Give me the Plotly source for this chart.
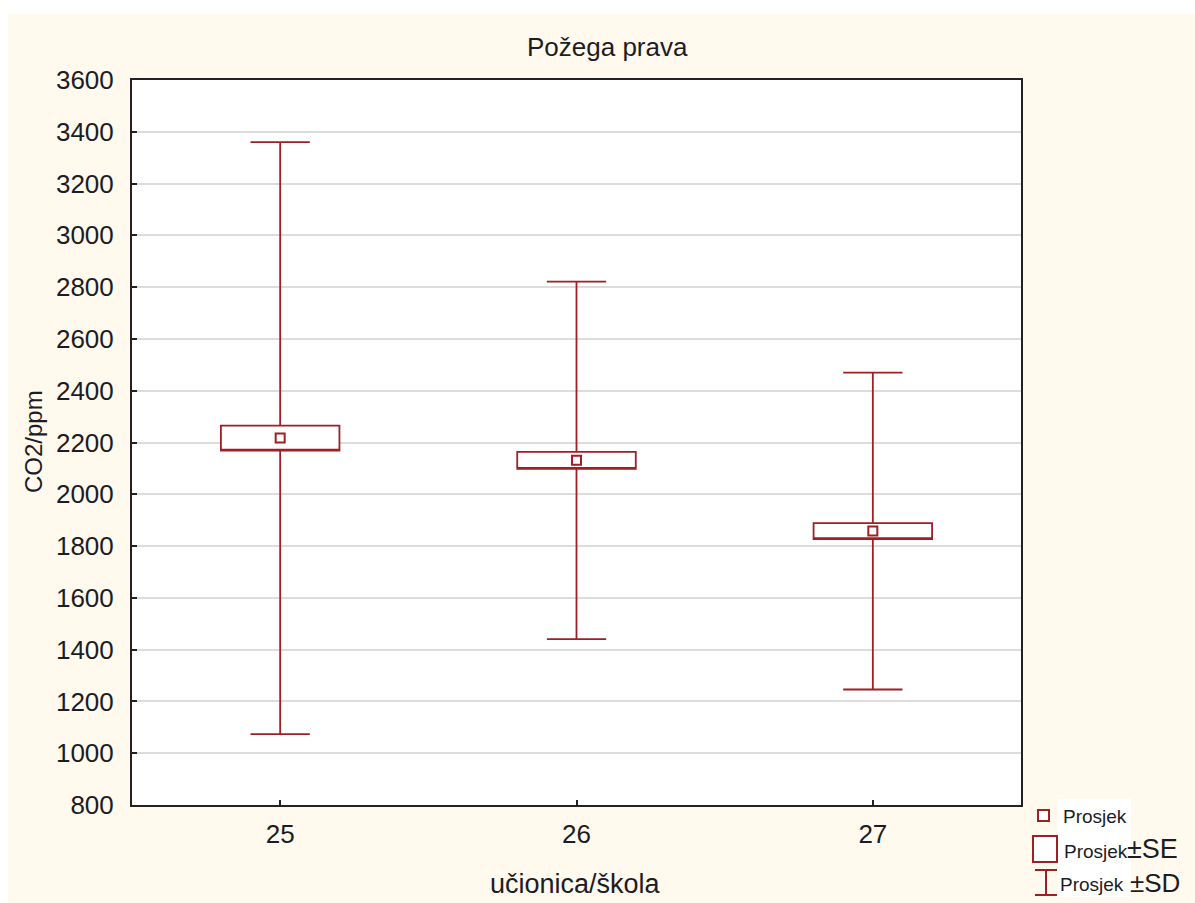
import plotly.graph_objects as go

# Classroom CO2 summary: mean, standard error and standard deviation per classroom
classrooms = [25, 26, 27]
mean_co2 = [2217, 2131, 1858]
se_co2 = [48, 33, 31]
sd_co2 = [1143, 690, 612]

y_ticks = list(range(800, 3601, 200))

RED = "#9E1F24"
CREAM = "#FFF9EE"
TEXT = "#1c1c24"
FONT = "Liberation Sans, Arial, sans-serif"

# Figure geometry (pixels)
W, H = 1195, 903
PL, PR, PT, PB = 132, 1021, 80, 805


def px(x):
    return (x - PL) / (PR - PL)


def py(y):
    return (PB - y) / (PB - PT)


lo_se = [m - s for m, s in zip(mean_co2, se_co2)]
hi_se = [m + s for m, s in zip(mean_co2, se_co2)]
lo_sd = [m - s for m, s in zip(mean_co2, sd_co2)]
hi_sd = [m + s for m, s in zip(mean_co2, sd_co2)]

fig = go.Figure()

# Mean ± SE box with whiskers out to mean ± SD
fig.add_trace(go.Box(
    x=classrooms,
    q1=lo_se,
    median=lo_se,
    q3=hi_se,
    lowerfence=lo_sd,
    upperfence=hi_sd,
    width=0.4,
    whiskerwidth=0.5,
    fillcolor="white",
    line=dict(color=RED, width=1.8),
    boxpoints=False,
    showlegend=False,
    hoverinfo="skip",
))

# Mean marker
fig.add_trace(go.Scatter(
    x=classrooms,
    y=mean_co2,
    mode="markers",
    marker=dict(symbol="square", size=9, color="white",
                line=dict(color=RED, width=2)),
    showlegend=False,
    hoverinfo="skip",
))

shapes = [
    # cream panel behind everything
    dict(type="rect", xref="paper", yref="paper", layer="below",
         x0=px(8), x1=px(W + 5), y0=py(H + 5), y1=py(14),
         fillcolor=CREAM, line=dict(width=0)),
    # white plotting area
    dict(type="rect", xref="paper", yref="paper", layer="below",
         x0=0, x1=1, y0=0, y1=1, fillcolor="white", line=dict(width=0)),
    # legend text backing
    dict(type="rect", xref="paper", yref="paper", layer="below",
         x0=px(1058), x1=px(1131), y0=py(897), y1=py(799),
         fillcolor="white", line=dict(width=0)),
    # legend: mean marker
    dict(type="rect", xref="paper", yref="paper",
         x0=px(1038), x1=px(1049), y0=py(821), y1=py(810),
         fillcolor="white", line=dict(color=RED, width=2)),
    # legend: SE box
    dict(type="rect", xref="paper", yref="paper",
         x0=px(1033), x1=px(1057), y0=py(862), y1=py(836),
         fillcolor="white", line=dict(color=RED, width=2)),
    # legend: SD whisker
    dict(type="line", xref="paper", yref="paper",
         x0=px(1046), x1=px(1046), y0=py(895), y1=py(870),
         line=dict(color=RED, width=2)),
    dict(type="line", xref="paper", yref="paper",
         x0=px(1035), x1=px(1057), y0=py(870), y1=py(870),
         line=dict(color=RED, width=2)),
    dict(type="line", xref="paper", yref="paper",
         x0=px(1035), x1=px(1057), y0=py(895), y1=py(895),
         line=dict(color=RED, width=2)),
]

annotations = [
    dict(text="Požega prava", x=px(607), y=py(47), xref="paper", yref="paper",
         xanchor="center", yanchor="middle", showarrow=False,
         font=dict(family=FONT, size=26, color=TEXT)),
    dict(text="učionica/škola", x=px(575), y=py(884), xref="paper", yref="paper",
         xanchor="center", yanchor="middle", showarrow=False,
         font=dict(family=FONT, size=27, color=TEXT)),
    dict(text="CO2/ppm", x=px(33), y=py(442), xref="paper", yref="paper",
         xanchor="center", yanchor="middle", showarrow=False, textangle=-90,
         font=dict(family=FONT, size=24, color=TEXT)),
    dict(text="Prosjek", x=px(1061), y=py(816), xref="paper", yref="paper",
         xanchor="left", yanchor="middle", showarrow=False,
         font=dict(family=FONT, size=19, color=TEXT)),
    dict(text="Prosjek", x=px(1062), y=py(851), xref="paper", yref="paper",
         xanchor="left", yanchor="middle", showarrow=False,
         font=dict(family=FONT, size=19, color=TEXT)),
    dict(text="±SE", x=px(1125), y=py(849), xref="paper", yref="paper",
         xanchor="left", yanchor="middle", showarrow=False,
         font=dict(family=FONT, size=27, color=TEXT)),
    dict(text="Prosjek", x=px(1058), y=py(884), xref="paper", yref="paper",
         xanchor="left", yanchor="middle", showarrow=False,
         font=dict(family=FONT, size=19, color=TEXT)),
    dict(text="±SD", x=px(1128), y=py(883), xref="paper", yref="paper",
         xanchor="left", yanchor="middle", showarrow=False,
         font=dict(family=FONT, size=26, color=TEXT)),
]

fig.update_layout(
    width=W, height=H,
    margin=dict(l=PL, r=W - PR, t=PT, b=H - PB, pad=0),
    paper_bgcolor="white",
    plot_bgcolor="rgba(0,0,0,0)",
    shapes=shapes,
    annotations=annotations,
    showlegend=False,
    font=dict(family=FONT, color=TEXT),
)

fig.update_xaxes(
    range=[24.5, 27.5],
    tickvals=classrooms,
    ticktext=[str(c) for c in classrooms],
    ticks="inside", ticklen=5, tickwidth=1.5, tickcolor="#222",
    showgrid=False, zeroline=False,
    showline=True, linecolor="#222", linewidth=2, mirror=True,
    tickfont=dict(family=FONT, size=26, color=TEXT),
    ticklabelstandoff=5,
)
fig.update_yaxes(
    range=[800, 3600],
    tickvals=y_ticks,
    ticktext=[str(v) for v in y_ticks],
    ticks="inside", ticklen=5, tickwidth=1.5, tickcolor="#222",
    showgrid=True, gridcolor="#DCDCDC", gridwidth=1.5,
    zeroline=False,
    showline=True, linecolor="#222", linewidth=2, mirror=True,
    tickfont=dict(family=FONT, size=26, color=TEXT),
    ticklabelstandoff=11,
)

fig.write_html("out.html")
